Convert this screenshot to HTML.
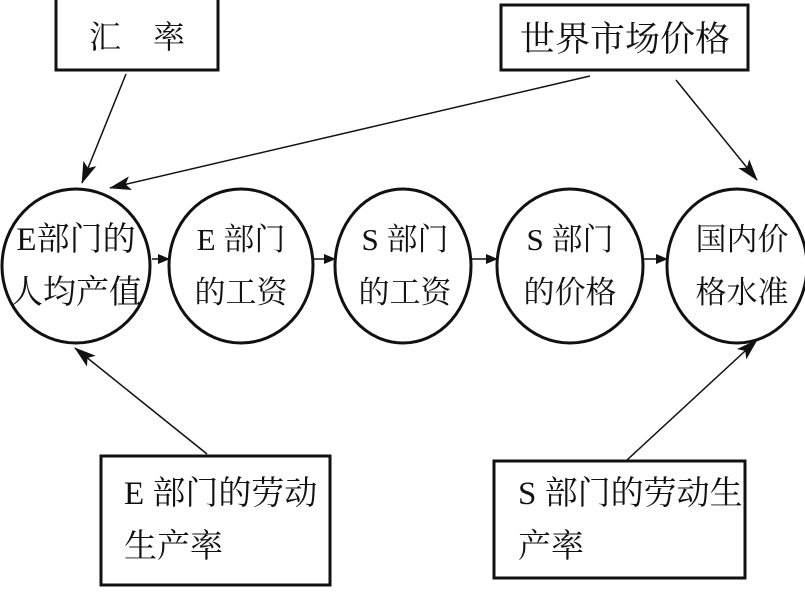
<!DOCTYPE html>
<html><head><meta charset="utf-8"><style>
body{margin:0;background:#fff;}
svg{display:block;}
text{font-family:"Liberation Serif","Noto Serif CJK SC",serif;font-size:31px;fill:#111;}
</style></head><body>
<svg width="805" height="600" viewBox="0 0 805 600" xmlns="http://www.w3.org/2000/svg">
<defs><marker id="a" markerWidth="12" markerHeight="10" refX="11" refY="5" orient="auto" markerUnits="userSpaceOnUse"><path d="M0,0 L12,5 L0,10 Z" fill="#111"/></marker>
<marker id="b" markerWidth="22" markerHeight="14" refX="21" refY="7" orient="auto" markerUnits="userSpaceOnUse"><path d="M0,0 L22,7 L0,14 L5,7 Z" fill="#111"/></marker></defs>
<g fill="none" stroke="#111" stroke-width="3">
<rect x="56" y="-2" width="162" height="72"/>
<rect x="501" y="5" width="247" height="65"/>
<rect x="101" y="456" width="229" height="129"/>
<rect x="494" y="461" width="251" height="117"/>
<ellipse cx="76" cy="266" rx="74" ry="77"/>
<ellipse cx="241" cy="266" rx="72" ry="77"/>
<ellipse cx="403" cy="266" rx="68" ry="77"/>
<ellipse cx="570" cy="266" rx="73" ry="77"/>
<ellipse cx="737" cy="266" rx="70" ry="77"/>
</g>
<g stroke="#111" stroke-width="1.5">
<line x1="152" y1="259" x2="169" y2="259" marker-end="url(#a)"/>
<line x1="313" y1="259" x2="335" y2="259" marker-end="url(#a)"/>
<line x1="471" y1="259" x2="497" y2="259" marker-end="url(#a)"/>
<line x1="643" y1="259" x2="667" y2="259" marker-end="url(#a)"/>
<line x1="126" y1="74" x2="82" y2="183" marker-end="url(#b)"/>
<line x1="590" y1="76" x2="110" y2="188" marker-end="url(#b)"/>
<line x1="676" y1="80" x2="757" y2="180" marker-end="url(#b)"/>
<line x1="207" y1="454" x2="75" y2="348" marker-end="url(#b)"/>
<line x1="627" y1="460" x2="757" y2="340" marker-end="url(#b)"/>
</g>
<text x="137" y="48" text-anchor="middle" style="font-size:32px">汇　率</text>
<text x="625" y="51" text-anchor="middle" style="font-size:35px">世界市场价格</text>
<text x="76" y="250" text-anchor="middle" style="font-size:33px">E部门的</text>
<text x="76" y="303" text-anchor="middle" style="font-size:33px">人均产值</text>
<text x="241" y="250" text-anchor="middle">E 部门</text>
<text x="241" y="303" text-anchor="middle">的工资</text>
<text x="405" y="250" text-anchor="middle">S 部门</text>
<text x="405" y="303" text-anchor="middle">的工资</text>
<text x="570" y="250" text-anchor="middle">S 部门</text>
<text x="570" y="303" text-anchor="middle">的价格</text>
<text x="742" y="250" text-anchor="middle">国内价</text>
<text x="742" y="303" text-anchor="middle">格水准</text>
<text x="124" y="504" style="font-size:33px">E 部门的劳动</text>
<text x="124" y="557" style="font-size:33px">生产率</text>
<text x="518" y="504" style="font-size:33px">S 部门的劳动生</text>
<text x="518" y="557" style="font-size:33px">产率</text>
</svg>
</body></html>
